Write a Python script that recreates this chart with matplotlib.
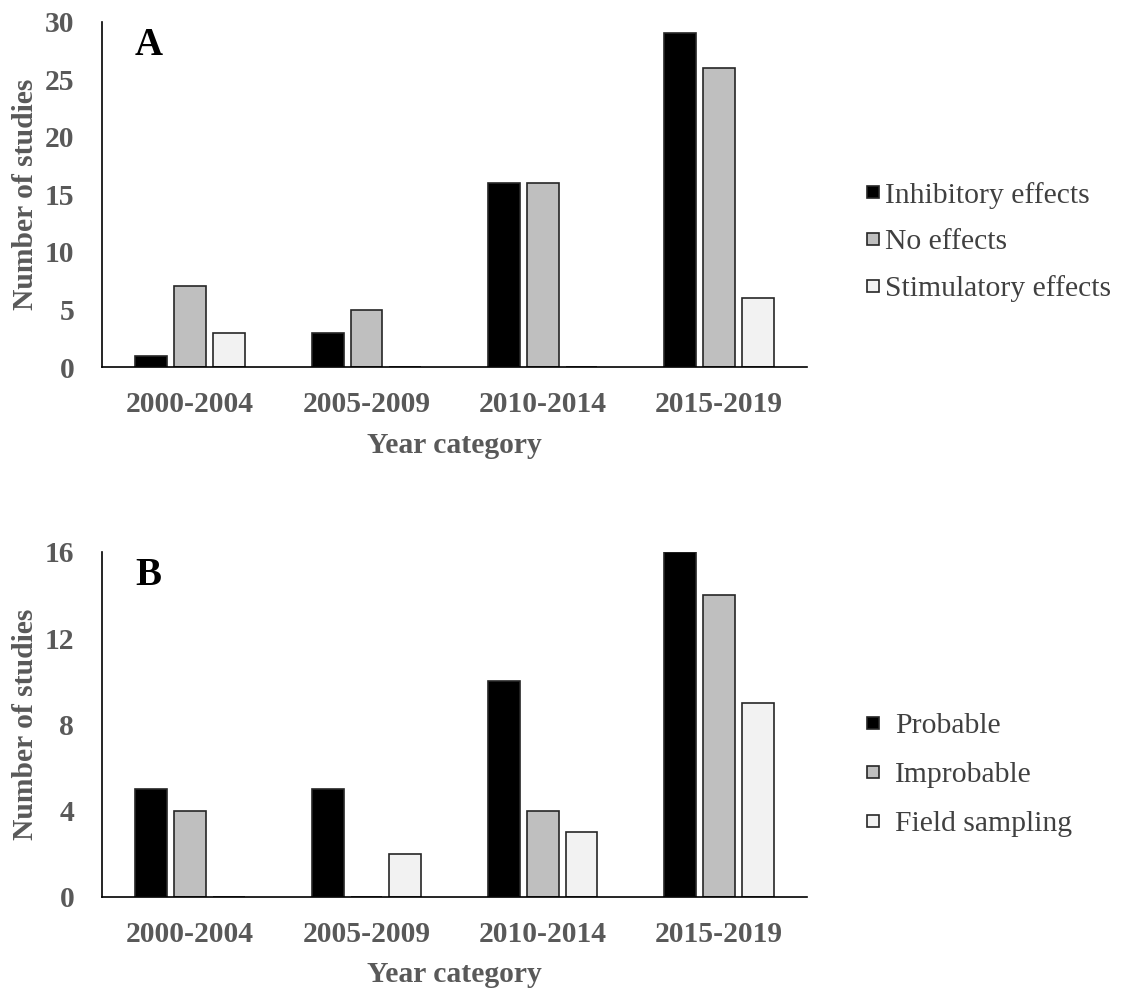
import numpy as np
import matplotlib
matplotlib.use("Agg")
import matplotlib.pyplot as plt
from matplotlib.lines import Line2D

plt.rcParams['font.family'] = ['Liberation Serif', 'DejaVu Serif']

years = ["2000-2004", "2005-2009", "2010-2014", "2015-2019"]

# panel A
labels_a = ["Inhibitory effects", "No effects", "Stimulatory effects"]
inhibitory = [1, 3, 16, 29]
no_effects = [7, 5, 16, 26]
stimulatory = [3, 0, 0, 6]

# panel B
labels_b = ["Probable", "Improbable", "Field sampling"]
probable = [5, 5, 10, 16]
improbable = [4, 0, 4, 14]
field_sampling = [0, 2, 3, 9]

fills = ["#000000", "#bfbfbf", "#f2f2f2"]
gray = "#595959"
fs = 21.3

fig = plt.figure(figsize=(11.23, 9.92), dpi=100)


def panel(rect, series, labels, ymax, step, letter, leg_y, spacing, textpad):
    ax = fig.add_axes(rect)
    x = np.arange(len(years))
    offs = [-0.22, 0.0, 0.22]
    for vals, off, col in zip(series, offs, fills):
        ax.bar(x + off, vals, width=0.18, color=col, edgecolor="#262626", linewidth=1.2)
    ax.set_xlim(-0.5, 3.5)
    ax.set_ylim(0, ymax)
    ax.set_yticks(np.arange(0, ymax + 1, step))
    ax.set_xticks(x)
    ax.set_xticklabels(years)
    for s in ["top", "right"]:
        ax.spines[s].set_visible(False)
    ax.spines["left"].set_linewidth(1.2)
    ax.spines["bottom"].set_linewidth(1.2)
    ax.tick_params(length=0, labelsize=fs, labelcolor=gray)
    ax.tick_params(axis="y", pad=20)
    ax.tick_params(axis="x", pad=17)
    for t in ax.get_xticklabels() + ax.get_yticklabels():
        t.set_fontweight("bold")
    ax.set_ylabel("Number of studies", fontsize=fs, fontweight="bold", color=gray, labelpad=4)
    ax.set_xlabel("Year category", fontsize=fs, fontweight="bold", color=gray, labelpad=10)
    ax.text(0.047, 0.93, letter, transform=ax.transAxes, fontsize=28, fontweight="bold",
            va="center", ha="left")
    handles = [Line2D([], [], linestyle="none", marker="s", markersize=8.3,
                      markerfacecolor=c, markeredgecolor="#262626", markeredgewidth=1.2)
               for c in fills]
    fig.legend(handles, labels, loc="center left", bbox_to_anchor=(0.749, leg_y),
               frameon=False, fontsize=fs, handlelength=0.36,
               labelspacing=spacing, handletextpad=textpad, labelcolor="#404040")
    return ax


panel([0.0908, 0.630, 0.628, 0.348], [inhibitory, no_effects, stimulatory], labels_a, 30, 5, "A", 0.756, 0.68, 0.22)
panel([0.0908, 0.0958, 0.628, 0.348], [probable, improbable, field_sampling], labels_b, 16, 4, "B", 0.219, 0.75, 0.55)

fig.savefig("out.png", dpi=100)
